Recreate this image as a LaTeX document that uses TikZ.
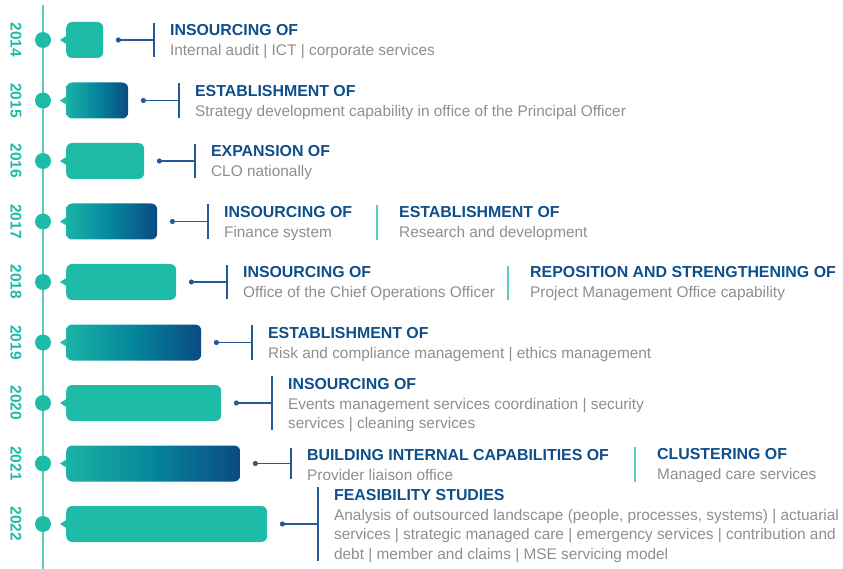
\documentclass[tikz,border=0pt]{standalone}
\usepackage{fontspec}
\setmainfont{Liberation Sans}
\usetikzlibrary{positioning}

\definecolor{mint}{HTML}{1EBBA7}
\definecolor{mintline}{HTML}{5CCBBC}
\definecolor{petrol}{HTML}{05859C}
\definecolor{navy}{HTML}{0B4A82}
\definecolor{linkblue}{HTML}{25599A}
\definecolor{headblue}{HTML}{0E4E8A}
\definecolor{bodygray}{HTML}{8E8E8E}

\tikzset{
  yeardot/.style = {circle, fill=mint, inner sep=0pt, minimum size=16pt},
  yearlabel/.style = {rotate=-90, text=mint, font=\fontsize{15.5}{18}\selectfont\bfseries},
  flatbar/.style = {fill=mint, rounded corners=6pt, minimum height=36pt,
                    inner sep=0pt, anchor=west},
  shadebar/.style = {left color=mint!85!petrol, right color=navy, middle color=petrol,
                     rounded corners=6pt, minimum height=36pt, inner sep=0pt, anchor=west},
  entry/.style = {align=left, inner sep=0pt, anchor=west, text=bodygray,
                  font=\fontsize{15.4}{19.5}\selectfont},
  milestone/.style = {entry, yshift=-2pt},
  link/.style = {draw=linkblue, line width=1.3pt},
  divider/.style = {draw=mintline, line width=1.2pt}
}
\newcommand{\hd}[1]{{\fontsize{15.9}{19.5}\selectfont\bfseries\color{headblue}#1}\\[0.5pt]}

\begin{document}
\begin{tikzpicture}[x=1pt, y=-1pt]
  \useasboundingbox (0,0) rectangle (843,569);

  % timeline
  \coordinate (top) at (43,5);
  \coordinate (bottom) at (43,569);
  \draw[mintline, line width=1.5pt] (top) -- (bottom);

  % years: dot, label and bar
  \foreach \yr/\yy/\r/\sty in {2014/40/103/flatbar, 2015/100.5/128/shadebar,
      2016/161/144/flatbar, 2017/221.5/157/shadebar, 2018/282/176/flatbar,
      2019/342.5/201/shadebar, 2020/403/221/flatbar, 2021/463.5/240/shadebar,
      2022/524/267/flatbar} {
    \node[yeardot] (d\yr) at (43,\yy) {};
    \node[yearlabel] (y\yr) at (16,\yy) {\yr};
    \pgfmathsetmacro{\w}{\r-66}
    \node[\sty, minimum width=\w pt] (b\yr) at (66,\yy) {};
    \fill[mint] ([xshift=1pt]b\yr.west) ++(0,-4.5) -- ++(-7,4.5) -- ++(7,4.5) -- cycle;
  }

  % milestones
  \node[milestone, right=66.5pt of b2014] (t2014) {\hd{INSOURCING OF}Internal audit | ICT | corporate services};
  \node[milestone, right=66.5pt of b2015] (t2015) {\hd{ESTABLISHMENT OF}Strategy development capability in office of the Principal Officer};
  \node[milestone, right=66.5pt of b2016] (t2016) {\hd{EXPANSION OF}CLO nationally};
  \node[milestone, right=66.5pt of b2017] (t2017) {\hd{INSOURCING OF}Finance system};
  \node[milestone, right=66.5pt of b2018] (t2018) {\hd{INSOURCING OF}Office of the Chief Operations Officer};
  \node[milestone, right=66.5pt of b2019] (t2019) {\hd{ESTABLISHMENT OF}Risk and compliance management | ethics management};
  \node[milestone, right=66.5pt of b2020] (t2020) {\hd{INSOURCING OF}Events management services coordination | security\\services | cleaning services};
  \node[milestone, right=66.5pt of b2021] (t2021) {\hd{BUILDING INTERNAL CAPABILITIES OF}Provider liaison office};
  \node[milestone, right=66.5pt of b2022] (t2022) {\hd{FEASIBILITY STUDIES}Analysis of outsourced landscape (people, processes, systems) | actuarial\\services | strategic managed care | emergency services | contribution and\\debt | member and claims | MSE servicing model};

  % second column
  \node[entry] (t2017b) at (t2017.west -| 399,0) {\hd{ESTABLISHMENT OF}Research and development};
  \node[entry] (t2018b) at (t2018.west -| 530,0) {\hd{REPOSITION AND STRENGTHENING OF}Project Management Office capability};
  \node[entry] (t2021b) at (t2021.west -| 657,0) {\hd{CLUSTERING OF}Managed care services};
  \foreach \n in {t2017b, t2018b, t2021b}
    \draw[divider] ([xshift=-22pt,yshift=1pt]\n.north west) -- ([xshift=-22pt,yshift=1pt]\n.south west);

  % connectors
  \foreach \yr in {2014,...,2022} {
    \fill[linkblue] ([xshift=15pt]b\yr.east) circle (2.6pt);
    \draw[link] ([xshift=15pt]b\yr.east) -- ([xshift=-16pt,yshift=2pt]t\yr.west);
    \draw[link] ([xshift=-16pt,yshift=2pt]t\yr.north west) -- ([xshift=-16pt,yshift=2pt]t\yr.south west);
  }
\end{tikzpicture}
\end{document}
